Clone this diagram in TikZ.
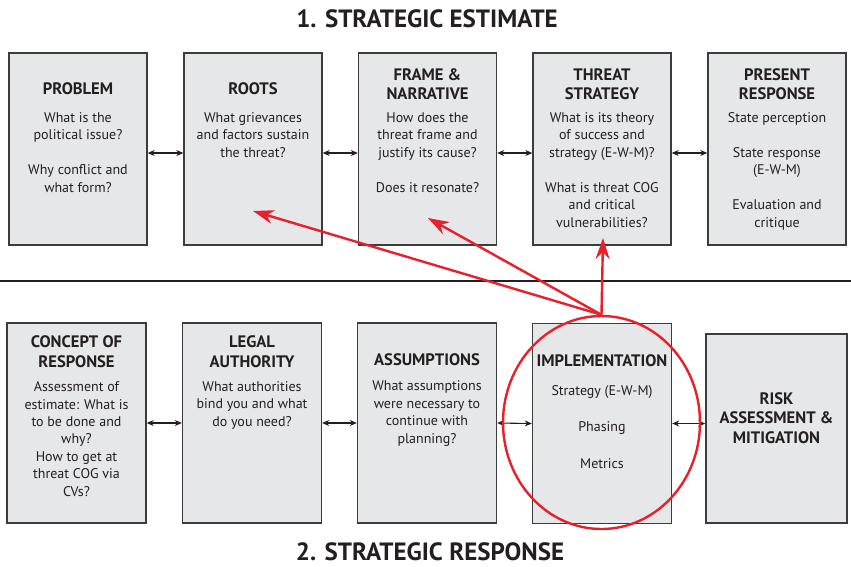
\documentclass[tikz,border=0pt]{standalone}
\usepackage{fontspec}
\setmainfont{PT Sans}
\usetikzlibrary{arrows.meta,shapes.geometric}
\definecolor{boxfill}{HTML}{E6E7E8}
\definecolor{boxline}{HTML}{3C3C3E}
\definecolor{ink}{HTML}{231F20}
\definecolor{hot}{HTML}{E8202A}
\tikzset{
  box/.style={draw=boxline, fill=boxfill, line width=1.4pt, rectangle, inner sep=0pt},
  topbox/.style={box, minimum width=138pt, minimum height=192pt},
  botbox/.style={box, minimum width=139pt, minimum height=200pt},
  head/.style={anchor=base, align=center, inner sep=0pt, text=ink, font=\fontsize{16.6}{19.5}\selectfont\bfseries},
  body/.style={anchor=base, align=center, inner sep=0pt, text=ink, font=\fontsize{14}{17.5}\selectfont},
  title/.style={anchor=base, inner sep=0pt, text=ink, font=\fontsize{25}{29}\selectfont\bfseries},
  link/.style={{Stealth[length=7pt,width=6pt]}-{Stealth[length=7pt,width=6pt]}, line width=1.1pt, draw=ink},
  focus/.style={-{Stealth[length=21pt,width=14pt]}, line width=2.4pt, draw=hot},
}
\begin{document}
\begin{tikzpicture}[x=1pt,y=-1pt]
\useasboundingbox (0,0) rectangle (851,566);
% titles
\node[title] (t1) at (427,27) {1. STRATEGIC ESTIMATE};
\node[title] (t2) at (430,560) {2. STRATEGIC RESPONSE};
% divider
\coordinate (dl) at (0,281);
\coordinate (dr) at (851,281);
\draw[line width=2.6pt, draw=ink] (dl) -- (dr);
% top row
\node[topbox] (a1) at (78,149) {};
\node[topbox] (a2) at (253,149) {};
\node[topbox] (a3) at (427.5,149) {};
\node[topbox] (a4) at (602,149) {};
\node[topbox] (a5) at (777,149) {};
% (base anchor = baseline of the last line)
\node[head] (ah1) at (78,94) {PROBLEM};
\node[head] (ah2) at (253,94) {ROOTS};
\node[head] (ah3) at (427.5,99.5) {FRAME \&\\NARRATIVE};
\node[head] (ah4) at (602,99.5) {THREAT\\STRATEGY};
\node[head] (ah5) at (777,99.5) {PRESENT\\RESPONSE};
\node[body] (ab1) at (78,192) {What is the\\political issue?\\[17.5pt]Why conflict and\\what form?};
\node[body] (ab2) at (253,157) {What grievances\\and factors sustain\\the threat?};
\node[body] (ab3) at (427.5,192) {How does the\\threat frame and\\justify its cause?\\[17.5pt]Does it resonate?};
\node[body] (ab4) at (602,227) {What is its theory\\of success and\\strategy (E-W-M)?\\[17.5pt]What is threat COG\\and critical\\vulnerabilities?};
\node[body] (ab5) at (777,227) {State perception\\[17.5pt]State response\\(E-W-M)\\[17.5pt]Evaluation and\\critique};
\foreach \p/\q in {a1/a2,a2/a3,a3/a4,a4/a5}
  \draw[link] ([yshift=-4pt]\p.east) -- ([yshift=-4pt]\q.west);
% bottom row
\node[botbox] (b1) at (76.5,423) {};
\node[botbox] (b2) at (252,423) {};
\node[botbox] (b3) at (427,423) {};
\node[botbox] (b4) at (602,423.5) {};
\node[box, minimum width=141pt, minimum height=189pt] (b5) at (776.5,428.5) {};
\node[head] (bh1) at (76.5,367) {CONCEPT OF\\RESPONSE};
\node[head] (bh2) at (252,367) {LEGAL\\AUTHORITY};
\node[head] (bh3) at (427,365) {ASSUMPTIONS};
\node[head] (bh4) at (602,366) {IMPLEMENTATION};
\node[head] (bh5) at (776.5,443) {RISK\\ASSESSMENT \&\\MITIGATION};
\node[body, font=\fontsize{14}{17.4}\selectfont] (bb1) at (76.5,496) {Assessment of\\estimate: What is\\to be done and\\why?\\How to get at\\threat COG via\\CVs?};
\node[body, font=\fontsize{14}{17.4}\selectfont] (bb2) at (252,426) {What authorities\\bind you and what\\do you need?};
\node[body, font=\fontsize{14}{17.4}\selectfont] (bb3) at (427,443) {What assumptions\\were necessary to\\continue with\\planning?};
\node[body] (bb4) at (602,468) {Strategy (E-W-M)\\[19pt]Phasing\\[19pt]Metrics};
\foreach \p/\q in {b1/b2,b2/b3,b3/b4}
  \draw[link] (\p.east) -- (\q.west);
\draw[link] (b4.east) -- (b4.east -| b5.west);
% red emphasis
\node[draw=hot, line width=2.4pt, ellipse, inner sep=0pt, minimum width=197pt, minimum height=213pt] (ring) at (601.5,422.5) {};
\coordinate (r1) at (253,211);
\coordinate (r2) at (428,218);
\coordinate (r3) at (603,238);
\draw[focus] (ring.north) -- (r1);
\draw[focus] (ring.north) -- (r2);
\draw[focus] (ring.north) -- (r3);
\end{tikzpicture}
\end{document}
